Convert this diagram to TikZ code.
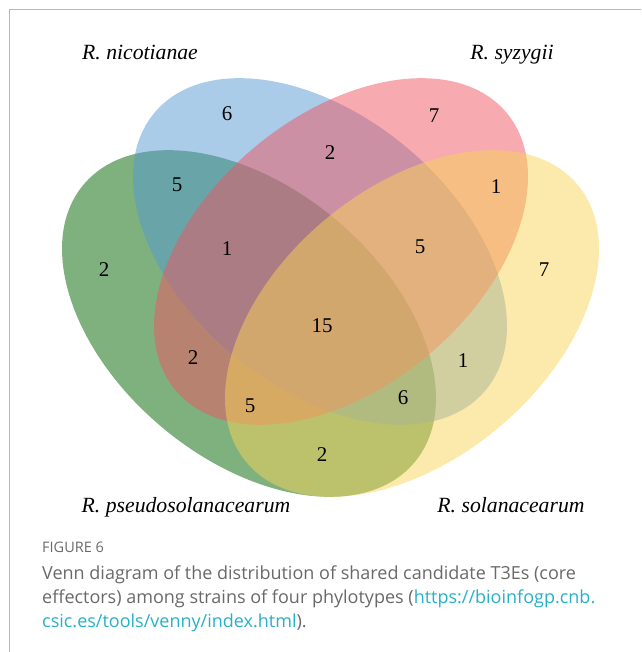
\documentclass[tikz,border=0pt]{standalone}
\usepackage{fontspec}
\setmainfont{Liberation Serif}
\newfontfamily\capfont{Open Sans}
\usetikzlibrary{positioning}
\definecolor{nicblue}{RGB}{85,153,209}
\definecolor{syzred}{RGB}{239,85,97}
\definecolor{psegreen}{RGB}{0,99,0}
\definecolor{solyellow}{RGB}{249,211,89}
\definecolor{framegray}{RGB}{185,185,185}
\definecolor{capgray}{RGB}{105,105,105}
\definecolor{linkcyan}{RGB}{40,176,200}
\tikzset{
  venn/.style={fill opacity=0.5},
  count/.style={font=\fontsize{21}{24}\selectfont, inner sep=0pt},
  setname/.style={font=\fontsize{21.7}{24}\selectfont\itshape, inner sep=0pt, anchor=base},
  figlabel/.style={font=\capfont\fontsize{14.5}{16}\selectfont, text=capgray, inner sep=0pt, anchor=base west},
  caption/.style={font=\capfont\fontsize{18}{24}\selectfont, text=capgray, inner sep=0pt, anchor=base west},
  framerule/.style={draw=framegray, line width=1.5pt}
}

\begin{document}
\begin{tikzpicture}[x=1pt,y=-1pt]
  \useasboundingbox (0,0) rectangle (641,652);
  \draw[framerule] (9.5,652) -- (9.5,9.5) -- (641,9.5);

  % the four sets
  \fill[venn, psegreen, rotate around={-40:(249,323.5)}] (249,323.5) ellipse [x radius=216, y radius=135.4];
  \fill[venn, nicblue, rotate around={-40:(320,251.5)}] (320,251.5) ellipse [x radius=216, y radius=135.4];
  \fill[venn, syzred, rotate around={40:(341,251.5)}] (341,251.5) ellipse [x radius=216, y radius=135.4];
  \fill[venn, solyellow, rotate around={40:(412,323.5)}] (412,323.5) ellipse [x radius=216, y radius=135.4];

  \node[setname] (nicname) at (140,60) {R. nicotianae};
  \node[setname] (syzname) at (512,60) {R. syzygii};
  \node[setname] (psename) at (186,512) {R. pseudosolanacearum};
  \node[setname] (solname) at (511,512) {R. solanacearum};

  % region counts
  \node[count] (nOnly) at (227,114) {6};
  \node[count] (sOnly) at (434,116) {7};
  \node[count] (ns) at (330,153) {2};
  \node[count] (np) at (177,185) {5};
  \node[count] (sy) at (496,187) {1};
  \node[count] (pOnly) at (104,270) {2};
  \node[count] (nsp) at (227,249) {1};
  \node[count] (nsy) at (420,247) {5};
  \node[count] (yOnly) at (544,270) {7};
  \node[count] (all) at (322,326) {15};
  \node[count] (sp) at (193,358) {2};
  \node[count] (ny) at (463,361) {1};
  \node[count] (spy) at (250,406) {5};
  \node[count] (npy) at (403,398) {6};
  \node[count] (py) at (322,455) {2};

  \node[figlabel] (fig) at (42,552) {FIGURE 6};
  \node[caption] (capA) at (42,579) {Venn diagram of the distribution of shared candidate T3Es (core};
  \node[caption] (capB) at (42,603) {effectors) among strains of four phylotypes ({\color{linkcyan}https://bioinfogp.cnb.}};
  \node[caption] (capC) at (42,627) {{\color{linkcyan}csic.es/tools/venny/index.html}).};
\end{tikzpicture}
\end{document}
